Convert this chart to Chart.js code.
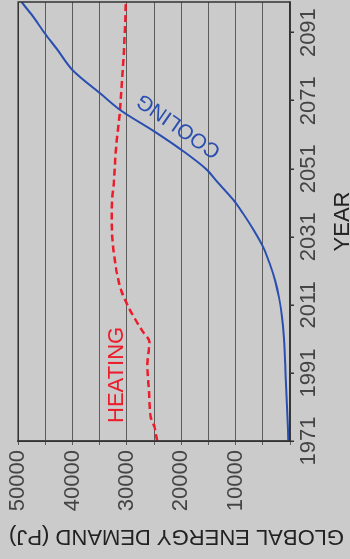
<!DOCTYPE html>
<html>
<head>
<meta charset="utf-8">
<style>
html,body{margin:0;padding:0;background:#cbcbcb;width:350px;height:559px;overflow:hidden}
#wrap{position:absolute;left:0;top:0;width:559px;height:350px;transform-origin:0 0;transform:translate(0,559px) rotate(-90deg);}
canvas{display:block}
</style>
<script src="https://cdn.jsdelivr.net/npm/chart.js@4/dist/chart.umd.min.js"></script>
</head>
<body>
<div id="wrap"><canvas id="c" width="559" height="350"></canvas></div>
<script>
// ---- data ----
const coolingYears  = [1971,1981,1991,2001,2008,2013,2018,2023,2028,2033,2038,2042,2047,2051,2056,2062,2068,2073,2080,2086,2091,2096,2100];
const coolingValues = [300,550,850,1100,1500,2000,2700,3700,4950,6700,8700,10500,13300,15500,19500,25000,31000,34800,40000,42800,45200,47400,49400];
const heatingYears  = [1971,1973,1975,1978,1982,1986,1990,1993,1997,2000,2003,2006,2011,2015,2020,2025,2030,2035,2041,2047,2055,2061,2066,2071,2078,2086,2093,2100];
const heatingValues = [24400,24700,24900,25600,25850,25950,26150,26250,26050,25850,27000,28200,29900,31000,31800,32300,32650,32800,32750,32400,32100,31750,31400,31150,30850,30530,30350,30200];
const xTickValues = [1971,1991,2011,2031,2051,2071,2091];
const yGridValues = [0,5000,10000,15000,20000,25000,30000,35000,40000,45000,50000];
const yTickLabels = [10000,20000,30000,40000,50000];
const xTitle = 'YEAR';
const yTitle = 'GLOBAL ENERGY DEMAND (PJ)';

const FONT = '"Liberation Sans", Arial, sans-serif';
Chart.defaults.font.family = FONT;

const bgPlugin = {
  id: 'bg',
  beforeDraw(chart) {
    const ctx = chart.ctx;
    ctx.save();
    ctx.fillStyle = '#cbcbcb';
    ctx.fillRect(0, 0, chart.width, chart.height);
    ctx.restore();
  },
  afterDatasetsDraw(chart) {
    const ctx = chart.ctx, a = chart.chartArea;
    const xs = chart.scales.x, ys = chart.scales.y;
    ctx.save();
    ctx.strokeStyle = '#333';
    ctx.lineWidth = 1.5;
    ctx.strokeRect(a.left, a.top, a.right - a.left, a.bottom - a.top);
    // series labels
    ctx.font = '22px ' + FONT;
    ctx.fillStyle = '#ec1c2a';
    ctx.textAlign = 'left';
    ctx.textBaseline = 'alphabetic';
    ctx.fillText('HEATING', xs.getPixelForValue(1976.3), ys.getPixelForValue(30770));
    ctx.save();
    ctx.translate(xs.getPixelForValue(2063.7), ys.getPixelForValue(20420));
    ctx.rotate(-55 * Math.PI / 180);
    ctx.fillStyle = '#2a4fb0';
    ctx.font = '21px ' + FONT;
    ctx.textAlign = 'center';
    ctx.textBaseline = 'middle';
    ctx.fillText('COOLING', 0, 0);
    ctx.restore();
    ctx.restore();
  },
  afterDraw(chart) {
    const ctx = chart.ctx, a = chart.chartArea;
    ctx.save();
    ctx.fillStyle = '#222';
    ctx.font = '22px ' + FONT;
    ctx.textAlign = 'center';
    ctx.textBaseline = 'alphabetic';
    ctx.fillText(xTitle, (a.left + a.right) / 2, 349);
    ctx.translate(29, 176.5);
    ctx.rotate(-Math.PI / 2);
    ctx.fillText(yTitle, 0, 0);
    ctx.restore();
  }
};

new Chart(document.getElementById('c'), {
  type: 'line',
  data: {
    datasets: [
      {
        label: 'Cooling',
        data: coolingYears.map((x, i) => ({x, y: coolingValues[i]})),
        borderColor: '#2a4fb0',
        borderWidth: 2,
        pointRadius: 0,
        cubicInterpolationMode: 'monotone',
        fill: false
      },
      {
        label: 'Heating',
        data: heatingYears.map((x, i) => ({x, y: heatingValues[i]})),
        borderColor: '#ec1c2a',
        borderWidth: 2.5,
        borderDash: [7, 4],
        pointRadius: 0,
        cubicInterpolationMode: 'monotone',
        fill: false
      }
    ]
  },
  options: {
    responsive: false,
    animation: false,
    devicePixelRatio: 1,
    layout: {padding: {top: 17, right: 2, left: 0, bottom: 0}},
    plugins: {legend: {display: false}, tooltip: {enabled: false}},
    scales: {
      x: {
        type: 'linear',
        min: 1971,
        max: 2100,
        afterBuildTicks: ax => { ax.ticks = xTickValues.map(v => ({value: v})); },
        afterFit: ax => { ax.height = 60; },
        grid: {drawOnChartArea: false, drawTicks: true, tickLength: 4, color: '#333', lineWidth: 1.5},
        border: {color: '#333', width: 1.5},
        ticks: {padding: 2, font: {size: 22}, color: '#444', maxRotation: 0, minRotation: 0, autoSkip: false, callback: v => String(v)}
      },
      y: {
        type: 'linear',
        min: 0,
        max: 50000,
        afterBuildTicks: ax => { ax.ticks = yGridValues.map(v => ({value: v})); },
        afterFit: ax => { ax.width = 118; },
        grid: {color: '#5c5c5c', lineWidth: 1, drawTicks: true, tickLength: 4},
        border: {color: '#333', width: 1.5},
        ticks: {padding: 5, font: {size: 22}, color: '#444', autoSkip: false, callback: v => yTickLabels.includes(v) ? String(v) : ''}
      }
    }
  },
  plugins: [bgPlugin]
});
</script>
</body>
</html>
